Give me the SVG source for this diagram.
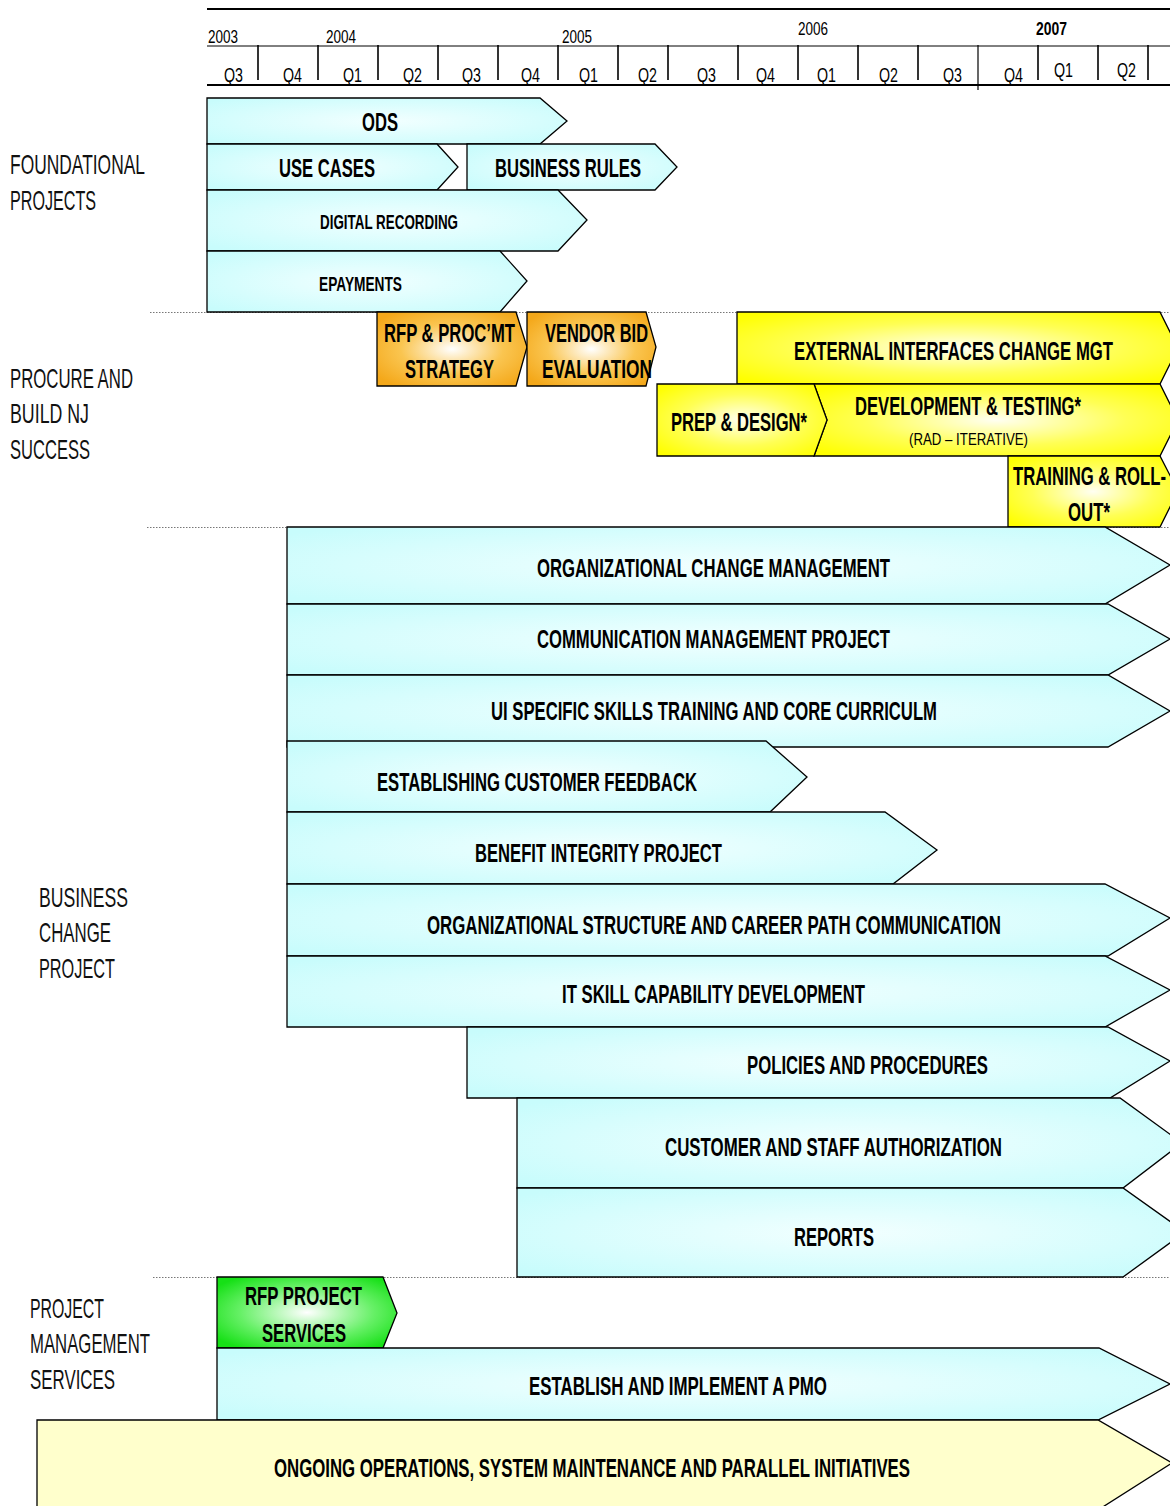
<svg xmlns="http://www.w3.org/2000/svg" width="1170" height="1506" viewBox="0 0 1170 1506">
  <defs>
    <radialGradient id="gBlue" cx="50%" cy="50%" r="65%">
      <stop offset="0" stop-color="#F2FFFF"/>
      <stop offset="1" stop-color="#C8FCFC"/>
    </radialGradient>
    <radialGradient id="gYellow" cx="50%" cy="50%" r="65%">
      <stop offset="0" stop-color="#FFFFF2"/>
      <stop offset="0.55" stop-color="#FFFF55"/>
      <stop offset="1" stop-color="#FFFF00"/>
    </radialGradient>
    <radialGradient id="gOrange" cx="50%" cy="50%" r="62%">
      <stop offset="0" stop-color="#FFFFFF"/>
      <stop offset="0.55" stop-color="#FAC550"/>
      <stop offset="1" stop-color="#F4A81A"/>
    </radialGradient>
    <radialGradient id="gGreen" cx="50%" cy="50%" r="62%">
      <stop offset="0" stop-color="#FFFFFF"/>
      <stop offset="0.6" stop-color="#66F066"/>
      <stop offset="1" stop-color="#16E016"/>
    </radialGradient>
  </defs>
  <style>
    .shape { stroke: #000; stroke-width: 1.3; stroke-linejoin: miter; }
    .blue { fill: url(#gBlue); }
    .yellow { fill: url(#gYellow); }
    .orange { fill: url(#gOrange); }
    .green { fill: url(#gGreen); }
    .cream { fill: #FFFFCC; }
    .lbl { font-family: "Liberation Sans", Arial, sans-serif; font-weight: bold; font-size: 25px; fill: #000; }
    .lbl-s { font-size: 20px; }
    .sub { font-family: "Liberation Sans", Arial, sans-serif; font-weight: normal; font-size: 17px; fill: #000; }
    .sec { font-family: "Liberation Sans", Arial, sans-serif; font-weight: normal; font-size: 28px; fill: #111; }
    .hdr { font-family: "Liberation Sans", Arial, sans-serif; font-size: 21px; fill: #000; }
    .yr { font-family: "Liberation Sans", Arial, sans-serif; font-size: 19px; fill: #000; }
    .rule { stroke: #000; fill: none; }
    .sep { stroke: #777; stroke-width: 1; stroke-dasharray: 1.5 1.5; fill: none; }
  </style>

  <rect width="1170" height="1506" fill="#FFFFFF"/>

  <!-- timeline header -->
  <g id="timeline">
    <line class="rule" x1="207" y1="9" x2="1170" y2="9" stroke-width="2"/>
    <line class="rule" x1="207" y1="46" x2="1170" y2="46" stroke-width="1"/>
    <line class="rule" x1="207" y1="85" x2="1170" y2="85" stroke-width="2"/>
    <g class="rule" stroke-width="1.6">
      <line x1="258" y1="45" x2="258" y2="80"/>
      <line x1="318" y1="45" x2="318" y2="80"/>
      <line x1="378" y1="45" x2="378" y2="80"/>
      <line x1="438" y1="45" x2="438" y2="80"/>
      <line x1="498" y1="45" x2="498" y2="80"/>
      <line x1="558" y1="45" x2="558" y2="80"/>
      <line x1="618" y1="45" x2="618" y2="80"/>
      <line x1="668" y1="45" x2="668" y2="80"/>
      <line x1="738" y1="45" x2="738" y2="80"/>
      <line x1="798" y1="45" x2="798" y2="80"/>
      <line x1="858" y1="45" x2="858" y2="80"/>
      <line x1="918" y1="45" x2="918" y2="80"/>
      <line x1="978" y1="45" x2="978" y2="90" stroke-width="1.2"/>
      <line x1="1038" y1="45" x2="1038" y2="80"/>
      <line x1="1098" y1="45" x2="1098" y2="80"/>
      <line x1="1148" y1="45" x2="1148" y2="80"/>
    </g>
    <text class="yr" x="208" y="43" textLength="30" lengthAdjust="spacingAndGlyphs">2003</text>
    <text class="yr" x="326" y="43" textLength="30" lengthAdjust="spacingAndGlyphs">2004</text>
    <text class="yr" x="562" y="43" textLength="30" lengthAdjust="spacingAndGlyphs">2005</text>
    <text class="yr" x="798" y="35" textLength="30" lengthAdjust="spacingAndGlyphs">2006</text>
    <text class="yr" x="1036" y="35" font-weight="bold" textLength="31" lengthAdjust="spacingAndGlyphs">2007</text>
    <g class="hdr">
      <text x="224" y="82" textLength="19" lengthAdjust="spacingAndGlyphs">Q3</text>
      <text x="283" y="82" textLength="19" lengthAdjust="spacingAndGlyphs">Q4</text>
      <text x="343" y="82" textLength="19" lengthAdjust="spacingAndGlyphs">Q1</text>
      <text x="403" y="82" textLength="19" lengthAdjust="spacingAndGlyphs">Q2</text>
      <text x="462" y="82" textLength="19" lengthAdjust="spacingAndGlyphs">Q3</text>
      <text x="521" y="82" textLength="19" lengthAdjust="spacingAndGlyphs">Q4</text>
      <text x="579" y="82" textLength="19" lengthAdjust="spacingAndGlyphs">Q1</text>
      <text x="638" y="82" textLength="19" lengthAdjust="spacingAndGlyphs">Q2</text>
      <text x="697" y="82" textLength="19" lengthAdjust="spacingAndGlyphs">Q3</text>
      <text x="756" y="82" textLength="19" lengthAdjust="spacingAndGlyphs">Q4</text>
      <text x="817" y="82" textLength="19" lengthAdjust="spacingAndGlyphs">Q1</text>
      <text x="879" y="82" textLength="19" lengthAdjust="spacingAndGlyphs">Q2</text>
      <text x="943" y="82" textLength="19" lengthAdjust="spacingAndGlyphs">Q3</text>
      <text x="1004" y="82" textLength="19" lengthAdjust="spacingAndGlyphs">Q4</text>
      <text x="1054" y="77" textLength="19" lengthAdjust="spacingAndGlyphs">Q1</text>
      <text x="1117" y="77" textLength="19" lengthAdjust="spacingAndGlyphs">Q2</text>
    </g>
  </g>

  <!-- dotted section separators -->
  <g id="separators">
    <line class="sep" x1="150" y1="312.5" x2="1170" y2="312.5"/>
    <line class="sep" x1="147" y1="527.5" x2="1170" y2="527.5"/>
    <line class="sep" x1="153" y1="1277.5" x2="1170" y2="1277.5"/>
  </g>

  <!-- section titles -->
  <g id="section-foundational">
    <text class="sec" x="10" y="174" textLength="135" lengthAdjust="spacingAndGlyphs">FOUNDATIONAL</text>
    <text class="sec" x="10" y="210" textLength="86" lengthAdjust="spacingAndGlyphs">PROJECTS</text>
  </g>
  <g id="section-procure">
    <text class="sec" x="10" y="388" textLength="123" lengthAdjust="spacingAndGlyphs">PROCURE AND</text>
    <text class="sec" x="10" y="423" textLength="79" lengthAdjust="spacingAndGlyphs">BUILD NJ</text>
    <text class="sec" x="10" y="459" textLength="80" lengthAdjust="spacingAndGlyphs">SUCCESS</text>
  </g>
  <g id="section-business">
    <text class="sec" x="39" y="907" textLength="89" lengthAdjust="spacingAndGlyphs">BUSINESS</text>
    <text class="sec" x="39" y="942" textLength="72" lengthAdjust="spacingAndGlyphs">CHANGE</text>
    <text class="sec" x="39" y="978" textLength="76" lengthAdjust="spacingAndGlyphs">PROJECT</text>
  </g>
  <g id="section-pms">
    <text class="sec" x="30" y="1318" textLength="74" lengthAdjust="spacingAndGlyphs">PROJECT</text>
    <text class="sec" x="30" y="1353" textLength="120" lengthAdjust="spacingAndGlyphs">MANAGEMENT</text>
    <text class="sec" x="30" y="1389" textLength="85" lengthAdjust="spacingAndGlyphs">SERVICES</text>
  </g>

  <!-- foundational projects -->
  <g id="ods">
    <path class="shape blue" d="M207,98 H540 L567,121 L540,144 H207 Z"/>
    <text class="lbl" x="362" y="131" textLength="36" lengthAdjust="spacingAndGlyphs">ODS</text>
  </g>
  <g id="use-cases">
    <path class="shape blue" d="M207,144 H437 L458,167 L437,190 H207 Z"/>
    <text class="lbl" x="279" y="177" textLength="96" lengthAdjust="spacingAndGlyphs">USE CASES</text>
  </g>
  <g id="business-rules">
    <path class="shape blue" d="M467,144 H655 L677,167 L655,190 H467 Z"/>
    <text class="lbl" x="495" y="177" textLength="146" lengthAdjust="spacingAndGlyphs">BUSINESS RULES</text>
  </g>
  <g id="digital-recording">
    <path class="shape blue" d="M207,190 H558 L587,220 L558,251 H207 Z"/>
    <text class="lbl lbl-s" x="320" y="229" textLength="138" lengthAdjust="spacingAndGlyphs">DIGITAL RECORDING</text>
  </g>
  <g id="epayments">
    <path class="shape blue" d="M207,251 H500 L527,281 L500,312 H207 Z"/>
    <text class="lbl lbl-s" x="319" y="291" textLength="83" lengthAdjust="spacingAndGlyphs">EPAYMENTS</text>
  </g>

  <!-- procure and build -->
  <g id="rfp-strategy">
    <path class="shape orange" d="M377,312 H516 L527,347 L516,386 H377 Z"/>
    <text class="lbl" x="384" y="342" textLength="131" lengthAdjust="spacingAndGlyphs">RFP &amp; PROC’MT</text>
    <text class="lbl" x="405" y="378" textLength="89" lengthAdjust="spacingAndGlyphs">STRATEGY</text>
  </g>
  <g id="vendor-bid">
    <path class="shape orange" d="M527,312 H646 L656,347 L646,386 H527 Z"/>
    <text class="lbl" x="545" y="342" textLength="103" lengthAdjust="spacingAndGlyphs">VENDOR BID</text>
    <text class="lbl" x="542" y="378" textLength="110" lengthAdjust="spacingAndGlyphs">EVALUATION</text>
  </g>
  <g id="external-interfaces">
    <path class="shape yellow" d="M737,312 H1160 L1178,348 L1160,384 H737 Z"/>
    <text class="lbl" x="794" y="360" textLength="319" lengthAdjust="spacingAndGlyphs">EXTERNAL INTERFACES CHANGE MGT</text>
  </g>
  <g id="development-testing">
    <path class="shape yellow" d="M814,384 H1160 L1178,420 L1160,456 H814 L827,420 Z"/>
    <text class="lbl" x="855" y="415" textLength="226" lengthAdjust="spacingAndGlyphs">DEVELOPMENT &amp; TESTING*</text>
    <text class="sub" x="909" y="445" textLength="119" lengthAdjust="spacingAndGlyphs">(RAD – ITERATIVE)</text>
  </g>
  <g id="prep-design">
    <path class="shape yellow" d="M657,384 H814 L827,420 L814,456 H657 Z"/>
    <text class="lbl" x="671" y="431" textLength="136" lengthAdjust="spacingAndGlyphs">PREP &amp; DESIGN*</text>
  </g>
  <g id="training-rollout">
    <path class="shape yellow" d="M1008,456 H1160 L1178,491 L1160,527 H1008 Z"/>
    <text class="lbl" x="1013" y="485" textLength="153" lengthAdjust="spacingAndGlyphs">TRAINING &amp; ROLL-</text>
    <text class="lbl" x="1068" y="521" textLength="42" lengthAdjust="spacingAndGlyphs">OUT*</text>
  </g>

  <!-- business change projects -->
  <g id="org-change-mgmt">
    <path class="shape blue" d="M287,527 H1105 L1170,565 L1105,604 H287 Z"/>
    <text class="lbl" x="537" y="577" textLength="353" lengthAdjust="spacingAndGlyphs">ORGANIZATIONAL CHANGE MANAGEMENT</text>
  </g>
  <g id="communication-mgmt">
    <path class="shape blue" d="M287,604 H1108 L1170,639 L1108,675 H287 Z"/>
    <text class="lbl" x="537" y="648" textLength="353" lengthAdjust="spacingAndGlyphs">COMMUNICATION MANAGEMENT PROJECT</text>
  </g>
  <g id="ui-skills">
    <path class="shape blue" d="M287,675 H1108 L1170,711 L1108,747 H287 Z"/>
    <text class="lbl" x="491" y="720" textLength="446" lengthAdjust="spacingAndGlyphs">UI SPECIFIC SKILLS TRAINING AND CORE CURRICULM</text>
  </g>
  <g id="customer-feedback">
    <path class="shape blue" d="M287,741 H766 L807,777 L770,812 H287 Z"/>
    <text class="lbl" x="377" y="791" textLength="320" lengthAdjust="spacingAndGlyphs">ESTABLISHING CUSTOMER FEEDBACK</text>
  </g>
  <g id="benefit-integrity">
    <path class="shape blue" d="M287,812 H885 L937,850 L893,884 H287 Z"/>
    <text class="lbl" x="475" y="862" textLength="247" lengthAdjust="spacingAndGlyphs">BENEFIT INTEGRITY PROJECT</text>
  </g>
  <g id="org-structure">
    <path class="shape blue" d="M287,884 H1105 L1170,918 L1108,956 H287 Z"/>
    <text class="lbl" x="427" y="934" textLength="574" lengthAdjust="spacingAndGlyphs">ORGANIZATIONAL STRUCTURE AND CAREER PATH COMMUNICATION</text>
  </g>
  <g id="it-skill">
    <path class="shape blue" d="M287,956 H1105 L1170,990 L1105,1027 H287 Z"/>
    <text class="lbl" x="562" y="1003" textLength="303" lengthAdjust="spacingAndGlyphs">IT SKILL CAPABILITY DEVELOPMENT</text>
  </g>
  <g id="policies">
    <path class="shape blue" d="M467,1027 H1108 L1170,1061 L1110,1098 H467 Z"/>
    <text class="lbl" x="747" y="1074" textLength="241" lengthAdjust="spacingAndGlyphs">POLICIES AND PROCEDURES</text>
  </g>
  <g id="staff-authorization">
    <path class="shape blue" d="M517,1098 H1120 L1182,1143 L1123,1188 H517 Z"/>
    <text class="lbl" x="665" y="1156" textLength="337" lengthAdjust="spacingAndGlyphs">CUSTOMER AND STAFF AUTHORIZATION</text>
  </g>
  <g id="reports">
    <path class="shape blue" d="M517,1188 H1123 L1185,1232 L1123,1277 H517 Z"/>
    <text class="lbl" x="794" y="1246" textLength="80" lengthAdjust="spacingAndGlyphs">REPORTS</text>
  </g>

  <!-- project management services -->
  <g id="rfp-project-services">
    <path class="shape green" d="M217,1277 H383 L397,1313 L383,1348 H217 Z"/>
    <text class="lbl" x="245" y="1305" textLength="117" lengthAdjust="spacingAndGlyphs">RFP PROJECT</text>
    <text class="lbl" x="262" y="1342" textLength="84" lengthAdjust="spacingAndGlyphs">SERVICES</text>
  </g>
  <g id="pmo">
    <path class="shape blue" d="M217,1348 H1099 L1170,1384 L1098,1420 H217 Z"/>
    <text class="lbl" x="529" y="1395" textLength="298" lengthAdjust="spacingAndGlyphs">ESTABLISH AND IMPLEMENT A PMO</text>
  </g>
  <g id="ongoing-operations">
    <path class="shape cream" d="M37,1420 H1098 L1172,1463 L1098,1510 H37 Z"/>
    <text class="lbl" x="274" y="1477" textLength="636" lengthAdjust="spacingAndGlyphs">ONGOING OPERATIONS, SYSTEM MAINTENANCE AND PARALLEL INITIATIVES</text>
  </g>
</svg>
